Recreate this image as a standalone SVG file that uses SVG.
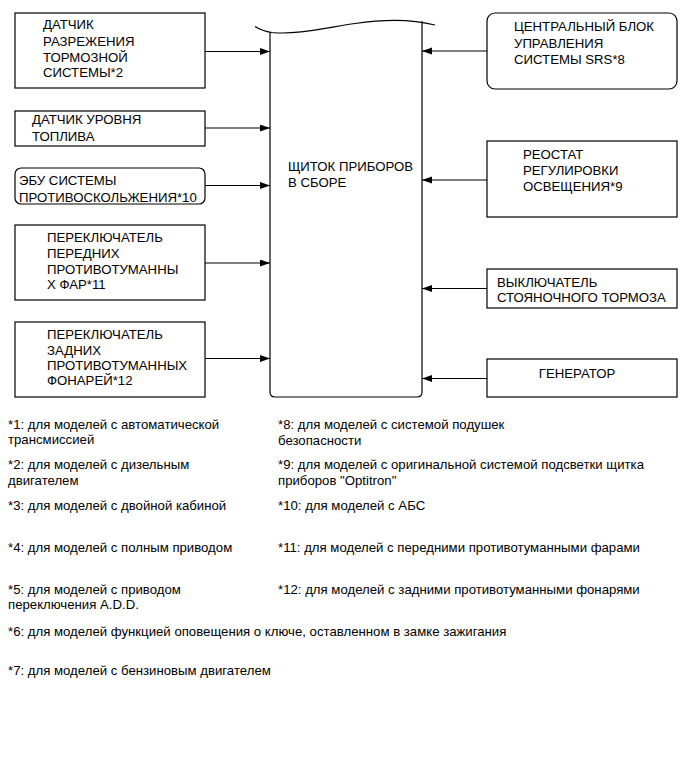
<svg xmlns="http://www.w3.org/2000/svg" width="691" height="759" viewBox="0 0 691 759">
<style>
text{font-family:"Liberation Sans",Arial,sans-serif;font-size:13.2px;fill:#000}
.box{fill:#fff;stroke:#000;stroke-width:1.2}
.ln{fill:none;stroke:#000;stroke-width:1.2}
</style>
<defs>
<marker id="ah" markerUnits="userSpaceOnUse" markerWidth="11" markerHeight="8" refX="10" refY="3.5" orient="auto">
<path d="M0,0 L10,3.5 L0,7 Z" fill="#000"/>
</marker>
</defs>
<rect width="691" height="759" fill="#fff"/>
<g id="connectors" class="ln">
<line x1="205" y1="51.5" x2="270" y2="51.5" marker-end="url(#ah)"/>
<line x1="205" y1="128" x2="270" y2="128" marker-end="url(#ah)"/>
<line x1="205" y1="185.5" x2="270" y2="185.5" marker-end="url(#ah)"/>
<line x1="205" y1="263" x2="270" y2="263" marker-end="url(#ah)"/>
<line x1="205" y1="358.5" x2="270" y2="358.5" marker-end="url(#ah)"/>
<line x1="487" y1="51" x2="422" y2="51" marker-end="url(#ah)"/>
<line x1="487" y1="180" x2="422" y2="180" marker-end="url(#ah)"/>
<line x1="487" y1="288.5" x2="422" y2="288.5" marker-end="url(#ah)"/>
<line x1="487" y1="378.5" x2="422" y2="378.5" marker-end="url(#ah)"/>
</g>
<g id="n1">
<rect class="box" x="15" y="13" width="190" height="75"/>
<text x="43" y="29">ДАТЧИК</text>
<text x="43" y="45.5">РАЗРЕЖЕНИЯ</text>
<text x="43" y="61.5">ТОРМОЗНОЙ</text>
<text x="43" y="77">СИСТЕМЫ*2</text>
</g>
<g id="n2">
<rect class="box" x="15" y="111" width="190" height="35"/>
<text x="32" y="123.5">ДАТЧИК УРОВНЯ</text>
<text x="32" y="141">ТОПЛИВА</text>
</g>
<g id="n3">
<rect class="box" x="15" y="168" width="190" height="36" rx="6"/>
<text x="19" y="184.5">ЭБУ СИСТЕМЫ</text>
<text x="19" y="201.5">ПРОТИВОСКОЛЬЖЕНИЯ*10</text>
</g>
<g id="n4">
<rect class="box" x="15" y="225" width="190" height="75"/>
<text x="47" y="242">ПЕРЕКЛЮЧАТЕЛЬ</text>
<text x="47" y="258">ПЕРЕДНИХ</text>
<text x="47" y="273.5">ПРОТИВОТУМАННЫ</text>
<text x="47" y="289">Х ФАР*11</text>
</g>
<g id="n5">
<rect class="box" x="15" y="322" width="190" height="75"/>
<text x="47" y="339">ПЕРЕКЛЮЧАТЕЛЬ</text>
<text x="47" y="354.5">ЗАДНИХ</text>
<text x="47" y="370">ПРОТИВОТУМАННЫХ</text>
<text x="47" y="385">ФОНАРЕЙ*12</text>
</g>
<g id="center">
<path class="box" d="M270,32 V392 Q270,397 275,397 H417 Q422,397 422,392 V21"/>
<path class="ln" d="M255,26.5 Q262,31 272,32.5 C295,35 325,28 355,23.5 C385,19 412,19 435,25"/>
<text x="288" y="171">ЩИТОК ПРИБОРОВ</text>
<text x="288" y="187">В СБОРЕ</text>
</g>
<g id="r1">
<rect class="box" x="487" y="13" width="190" height="76" rx="8"/>
<text x="514" y="31">ЦЕНТРАЛЬНЫЙ БЛОК</text>
<text x="514" y="47.5">УПРАВЛЕНИЯ</text>
<text x="514" y="64">СИСТЕМЫ SRS*8</text>
</g>
<g id="r2">
<rect class="box" x="487" y="141" width="190" height="76"/>
<text x="523" y="159">РЕОСТАТ</text>
<text x="523" y="175">РЕГУЛИРОВКИ</text>
<text x="523" y="190.5">ОСВЕЩЕНИЯ*9</text>
</g>
<g id="r3">
<rect class="box" x="487" y="269" width="190" height="39"/>
<text x="497" y="287">ВЫКЛЮЧАТЕЛЬ</text>
<text x="497" y="302">СТОЯНОЧНОГО ТОРМОЗА</text>
</g>
<g id="r4">
<rect class="box" x="487" y="359" width="190" height="38"/>
<text x="577" y="378" text-anchor="middle">ГЕНЕРАТОР</text>
</g>
<g id="notes">
<text x="8" y="428.5">*1: для моделей с автоматической</text>
<text x="8" y="443.5">трансмиссией</text>
<text x="8" y="468.5">*2: для моделей с дизельным</text>
<text x="8" y="484.5">двигателем</text>
<text x="8" y="509.5">*3: для моделей с двойной кабиной</text>
<text x="8" y="551.5">*4: для моделей с полным приводом</text>
<text x="8" y="593.5">*5: для моделей с приводом</text>
<text x="8" y="608.5">переключения A.D.D.</text>
<text x="8" y="635.5">*6: для моделей функцией оповещения о ключе, оставленном в замке зажигания</text>
<text x="8" y="674.5">*7: для моделей с бензиновым двигателем</text>
<text x="278" y="428.5">*8: для моделей с системой подушек</text>
<text x="278" y="444.5">безопасности</text>
<text x="278" y="468.5">*9: для моделей с оригинальной системой подсветки щитка</text>
<text x="278" y="484.5">приборов "Optitron"</text>
<text x="278" y="509.5">*10: для моделей с АБС</text>
<text x="278" y="551.5">*11: для моделей с передними противотуманными фарами</text>
<text x="278" y="593.5">*12: для моделей с задними противотуманными фонарями</text>
</g>
</svg>
